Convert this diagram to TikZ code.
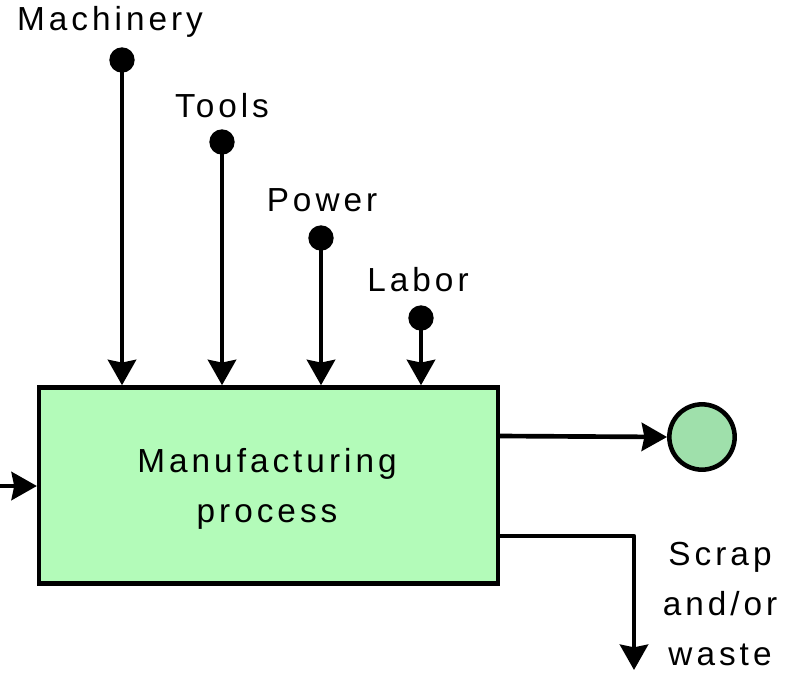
\documentclass[tikz,border=0pt]{standalone}
\usepackage{fontspec}
\setmainfont[LetterSpace=12]{Liberation Sans}
\usetikzlibrary{arrows.meta}
\definecolor{boxgreen}{RGB}{179,251,185}
\definecolor{circgreen}{RGB}{159,224,171}
\begin{document}
\begin{tikzpicture}[x=0.75pt,y=-0.75pt,
  lbl/.style={inner sep=0pt,font=\fontsize{25}{37.5}\selectfont,align=center},
  arr/.style={line width=3.5pt,-{Stealth[length=19pt,width=21pt,inset=2pt]}},
  dotnode/.style={circle,fill=black,minimum size=19pt,inner sep=0pt}]
\useasboundingbox (0,0) rectangle (799,672);
\node[draw,line width=3.4pt,fill=boxgreen,minimum width=344pt,minimum height=147pt,inner sep=0pt] (box) at (268.5,485.5) {};
\node[lbl] (mp) at (267,489) {Manufacturing\\process};
\node[dotnode] (d1) at (122,60) {};
\node[dotnode] (d2) at (222,142) {};
\node[dotnode] (d3) at (321,238) {};
\node[dotnode] (d4) at (421,318) {};
\node[lbl] (l1) at (110,22) {Machinery};
\node[lbl] (l2) at (222,106) {Tools};
\node[lbl] (l3) at (322,200) {Power};
\node[lbl] (l4) at (418,280) {Labor};
\draw[arr] (d1.center) -- (d1 |- box.north);
\draw[arr] (d2.center) -- (d2 |- box.north);
\draw[arr] (d3.center) -- (d3 |- box.north);
\draw[arr] (d4.center) -- (d4 |- box.north);
\coordinate (inp) at (-10,486);
\draw[arr] (inp) -- (inp -| box.west);
\node[draw,circle,line width=3.4pt,fill=circgreen,minimum size=49pt,inner sep=0pt] (out) at (702,437) {};
\coordinate (o1) at (500,436);
\draw[arr] (o1) -- (out.west);
\coordinate (s1) at (500,536);
\coordinate (s2) at (634,536);
\coordinate (s3) at (634,670);
\draw[arr,line join=round] (s1) -- (s2) -- (s3);
\node[lbl] (scrap) at (720,604) {Scrap\\and/or\\waste};
\end{tikzpicture}
\end{document}
